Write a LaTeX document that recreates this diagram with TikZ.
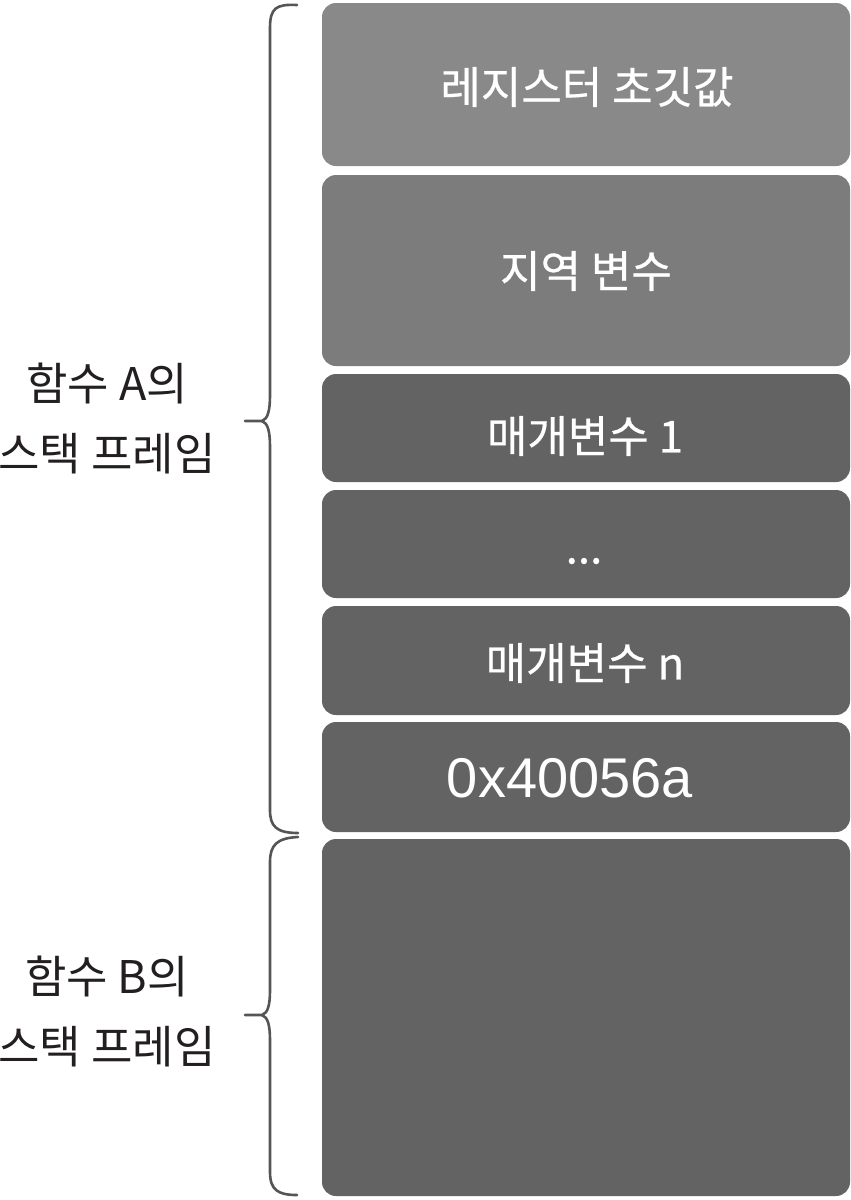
\documentclass[tikz,border=0pt]{standalone}
\usepackage{fontspec}
\setmainfont{Noto Sans CJK KR}
\newfontfamily\kbox{Noto Sans CJK KR}[FakeBold=0.6]
\newfontfamily\lat{Liberation Sans}
\definecolor{boxA}{HTML}{898989}
\definecolor{boxB}{HTML}{7C7C7C}
\definecolor{boxC}{HTML}{636363}
\definecolor{brace}{HTML}{555555}
\definecolor{lbl}{HTML}{231F20}
\tikzset{
  slot/.style={fill=#1, draw=none, rounded corners=14pt},
  slottext/.style={text=white, font=\kbox\fontsize{44}{50}\selectfont, inner sep=0pt},
  sidelabel/.style={text=lbl, align=center, font=\fontsize{45}{70}\selectfont, inner sep=0pt},
  bracepath/.style={draw=brace, line width=2.6pt, line cap=round, line join=round}
}
\begin{document}
\begin{tikzpicture}[x=1pt,y=-1pt]
\useasboundingbox (0,0) rectangle (851,1200);
\fill[white] (0,0) rectangle (851,1200);
% boxes
\path[slot=boxA] (322,3) rectangle (850,166);
\path[slot=boxB] (322,175) rectangle (850,366);
\path[slot=boxC] (322,374) rectangle (850,482);
\path[slot=boxC] (322,490) rectangle (850,598);
\path[slot=boxC] (322,606) rectangle (850,715);
\path[slot=boxC] (322,722) rectangle (850,832);
\path[slot=boxC] (322,839) rectangle (850,1196);
% box texts
\node[slottext] (t1) at (587,87) {레지스터 초깃값};
\node[slottext] (t2) at (586,271) {지역 변수};
\node[slottext] (t3) at (585,436) {매개변수 1};
\node[slottext] (t4) at (584,561) {...};
\node[slottext] (t5) at (585,663) {매개변수 n};
\node[slottext, font=\lat\fontsize{56}{60}\selectfont] (t6) at (570,778) {0x40056a};
% side labels
\node[sidelabel] (la) at (107,418) {함수 A의\\스택 프레임};
\node[sidelabel] (lb) at (107,1011) {함수 B의\\스택 프레임};
% braces
\coordinate (a1) at (297,5);
\coordinate (am) at (245,421);
\coordinate (a2) at (298,833);
\coordinate (b1) at (298,837);
\coordinate (bm) at (245,1015);
\coordinate (b2) at (297,1195);
\draw[bracepath] (a1) .. controls (276,4) and (270,8) .. (270,28)
  -- (270,395) .. controls (270,410) and (268,419) .. (262,421) -- (am);
\draw[bracepath] (262,421) .. controls (268,423) and (270,432) .. (270,447)
  -- (270,810) .. controls (270,826) and (276,833) .. (a2);
\draw[bracepath] (b1) .. controls (277,838) and (270,845) .. (270,862)
  -- (270,990) .. controls (270,1005) and (268,1013) .. (262,1015) -- (bm);
\draw[bracepath] (262,1015) .. controls (268,1017) and (270,1026) .. (270,1040)
  -- (270,1172) .. controls (270,1190) and (278,1195) .. (b2);
\end{tikzpicture}
\end{document}
